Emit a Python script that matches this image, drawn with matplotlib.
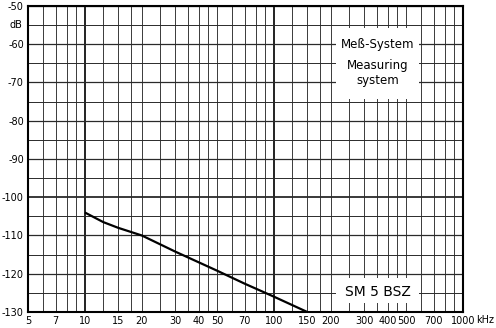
import numpy as np
import matplotlib
matplotlib.use("Agg")
import matplotlib.pyplot as plt
from matplotlib.patches import Rectangle

# measured noise level of the measuring system
freq_khz = [10, 12.5, 15, 20, 30, 50, 70, 100, 150]
level_db = [-104, -106.5, -108, -110, -114.2, -119.2, -122.6, -126, -130]

x_ticks = [5, 7, 10, 15, 20, 30, 40, 50, 70, 100, 150, 200, 300, 400, 500, 700, 1000]
x_labels = ["5", "7", "10", "15", "20", "30", "40", "50", "70", "100", "150",
            "200", "300", "400", "500", "700", "1000"]
y_ticks = [-130, -120, -110, -100, -90, -80, -70, -60, -50]
y_labels = ["-130", "-120", "-110", "-100", "-90", "-80", "-70", "-60", "-50"]

# vertical grid of the chart paper
grid_x = ([5, 6, 7, 8, 9, 10, 12.5, 15, 17.5, 20, 25, 30, 35, 40, 45, 50, 60, 70, 80, 90, 100,
           125, 150, 175, 200, 250, 300, 350, 400, 450, 500, 600, 700, 800, 900, 1000])
grid_y = list(range(-130, -45, 5))

plt.rcParams['font.family'] = ['DejaVu Sans']

fig = plt.figure(figsize=(4.96, 3.28), dpi=100)
ax = fig.add_axes([0.0565, 0.0488, 0.877, 0.933])
ax.set_xscale("log")
ax.set_xlim(5, 1000)
ax.set_ylim(-130, -50)

for gx in grid_x:
    if gx in (10, 100):
        ax.axvline(gx, color="#111111", lw=1.3, zorder=1)
    else:
        ax.axvline(gx, color="#3a3a3a", lw=0.7, zorder=1)
for gy in grid_y:
    if gy == -100:
        lw = 1.3
    elif gy % 10 == 0:
        lw = 0.9
    else:
        lw = 0.7
    ax.axhline(gy, color="#2a2a2a", lw=lw, zorder=1)

# white label fields cut out of the grid
ax.add_patch(Rectangle((212, -74.3), 588 - 212, 18.6, facecolor="white",
                       edgecolor="none", zorder=2))
ax.add_patch(Rectangle((212, -127.6), 588 - 212, 6.4, facecolor="white",
                       edgecolor="none", zorder=2))

ax.plot(freq_khz, level_db, color="black", lw=1.6, zorder=3, solid_capstyle="butt")

ax.text(353, -60, "Meß-System", ha="center", va="center", fontsize=8.5, zorder=4)
ax.text(353, -65.6, "Measuring", ha="center", va="center", fontsize=8.5, zorder=4)
ax.text(353, -69.6, "system", ha="center", va="center", fontsize=8.5, zorder=4)
ax.text(353, -124.7, "SM 5 BSZ", ha="center", va="center", fontsize=10, zorder=4)

ax.xaxis.set_major_locator(matplotlib.ticker.FixedLocator(x_ticks))
ax.xaxis.set_minor_locator(matplotlib.ticker.NullLocator())
ax.set_xticklabels(x_labels)
ax.set_yticks(y_ticks)
ax.set_yticklabels(y_labels)
ax.tick_params(axis="both", length=0, labelsize=7, colors="black")
ax.tick_params(axis="x", pad=3)
ax.tick_params(axis="y", pad=3)

ax.text(1.03, -0.027, "kHz", transform=ax.transAxes, ha="left", va="center", fontsize=7)
ax.text(-0.012, 0.937, "dB", transform=ax.transAxes, ha="right", va="center", fontsize=7)

for side in ax.spines.values():
    side.set_linewidth(1.5)
    side.set_color("black")

fig.savefig("out.png", dpi=100)
